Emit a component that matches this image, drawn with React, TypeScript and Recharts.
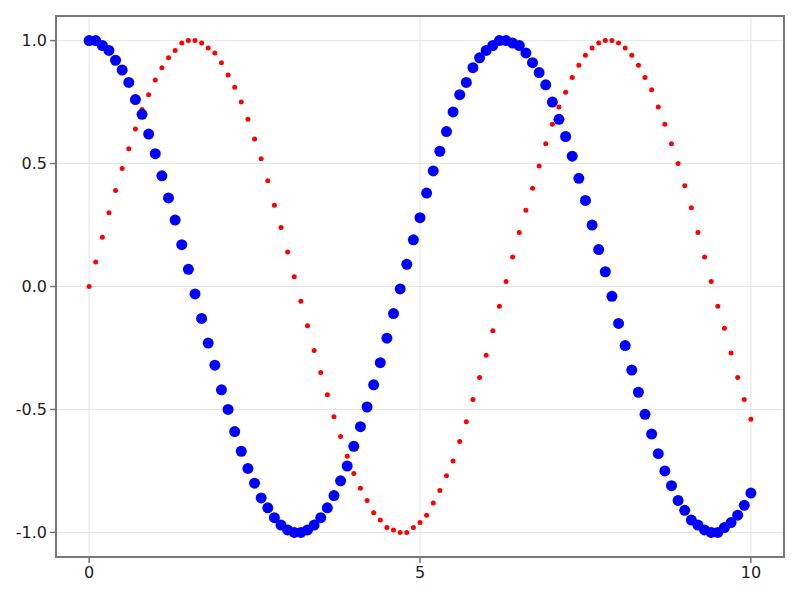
import { ScatterChart, Scatter, XAxis, YAxis, CartesianGrid, ReferenceArea } from "recharts";

const xs = [
  0, 0.1, 0.2, 0.3, 0.4, 0.5, 0.6, 0.7, 0.8, 0.9,
  1, 1.1, 1.2, 1.3, 1.4, 1.5, 1.6, 1.7, 1.8, 1.9,
  2, 2.1, 2.2, 2.3, 2.4, 2.5, 2.6, 2.7, 2.8, 2.9,
  3, 3.1, 3.2, 3.3, 3.4, 3.5, 3.6, 3.7, 3.8, 3.9,
  4, 4.1, 4.2, 4.3, 4.4, 4.5, 4.6, 4.7, 4.8, 4.9,
  5, 5.1, 5.2, 5.3, 5.4, 5.5, 5.6, 5.7, 5.8, 5.9,
  6, 6.1, 6.2, 6.3, 6.4, 6.5, 6.6, 6.7, 6.8, 6.9,
  7, 7.1, 7.2, 7.3, 7.4, 7.5, 7.6, 7.7, 7.8, 7.9,
  8, 8.1, 8.2, 8.3, 8.4, 8.5, 8.6, 8.7, 8.8, 8.9,
  9, 9.1, 9.2, 9.3, 9.4, 9.5, 9.6, 9.7, 9.8, 9.9,
  10,
];

// blue, large dots
const cosValues = [
  1.0, 1.0, 0.98, 0.96, 0.92, 0.88, 0.83, 0.76, 0.7, 0.62,
  0.54, 0.45, 0.36, 0.27, 0.17, 0.07, -0.03, -0.13, -0.23, -0.32,
  -0.42, -0.5, -0.59, -0.67, -0.74, -0.8, -0.86, -0.9, -0.94, -0.97,
  -0.99, -1.0, -1.0, -0.99, -0.97, -0.94, -0.9, -0.85, -0.79, -0.73,
  -0.65, -0.57, -0.49, -0.4, -0.31, -0.21, -0.11, -0.01, 0.09, 0.19,
  0.28, 0.38, 0.47, 0.55, 0.63, 0.71, 0.78, 0.83, 0.89, 0.93,
  0.96, 0.98, 1.0, 1.0, 0.99, 0.98, 0.95, 0.91, 0.87, 0.82,
  0.75, 0.68, 0.61, 0.53, 0.44, 0.35, 0.25, 0.15, 0.06, -0.04,
  -0.15, -0.24, -0.34, -0.43, -0.52, -0.6, -0.68, -0.75, -0.81, -0.87,
  -0.91, -0.95, -0.97, -0.99, -1.0, -1.0, -0.98, -0.96, -0.93, -0.89,
  -0.84,
];

// red, small dots
const sinValues = [
  0.0, 0.1, 0.2, 0.3, 0.39, 0.48, 0.56, 0.64, 0.72, 0.78,
  0.84, 0.89, 0.93, 0.96, 0.99, 1.0, 1.0, 0.99, 0.97, 0.95,
  0.91, 0.86, 0.81, 0.75, 0.68, 0.6, 0.52, 0.43, 0.33, 0.24,
  0.14, 0.04, -0.06, -0.16, -0.26, -0.35, -0.44, -0.53, -0.61, -0.69,
  -0.76, -0.82, -0.87, -0.92, -0.95, -0.98, -0.99, -1.0, -1.0, -0.98,
  -0.96, -0.93, -0.88, -0.83, -0.77, -0.71, -0.63, -0.55, -0.46, -0.37,
  -0.28, -0.18, -0.08, 0.02, 0.12, 0.22, 0.31, 0.4, 0.49, 0.58,
  0.66, 0.73, 0.79, 0.85, 0.9, 0.94, 0.97, 0.99, 1.0, 1.0,
  0.99, 0.97, 0.94, 0.9, 0.85, 0.8, 0.73, 0.66, 0.58, 0.5,
  0.41, 0.32, 0.22, 0.12, 0.02, -0.08, -0.17, -0.27, -0.37, -0.46,
  -0.54,
];

const xTicks = [0, 5, 10];
const yTicks = [-1, -0.5, 0, 0.5, 1];

const cosData = xs.map((x, i) => ({ x, y: cosValues[i] }));
const sinData = xs.map((x, i) => ({ x, y: sinValues[i] }));

const tickStyle = { fontFamily: "DejaVu Sans", fontSize: 16, fill: "#222" };

const dot = (r: number, color: string) => (props: any) =>
  <circle cx={props.cx} cy={props.cy} r={r} fill={color} />;

export default function App() {
  return (
    <div style={{ position: "absolute", left: 0, top: 0, background: "#fff" }}>
      <ScatterChart width={800} height={600} margin={{ top: 16, right: 16, bottom: 0, left: 0 }}>
        <CartesianGrid stroke="#e5e5e5" strokeWidth={1} />
        <XAxis
          type="number"
          dataKey="x"
          domain={[-0.5, 10.5]}
          ticks={xTicks}
          height={43}
          axisLine={false}
          tickLine={{ stroke: "#777", strokeWidth: 1.5 }}
          tickSize={6}
          tick={tickStyle}
          tickMargin={4}
        />
        <YAxis
          type="number"
          dataKey="y"
          domain={[-1.1, 1.1]}
          ticks={yTicks}
          width={56}
          axisLine={false}
          tickLine={{ stroke: "#777", strokeWidth: 1.5 }}
          tickSize={6}
          tick={tickStyle}
          tickMargin={3}
          tickFormatter={(v: number) => v.toFixed(1)}
        />
        <ReferenceArea x1={-0.5} x2={10.5} y1={-1.1} y2={1.1} fill="none" stroke="#777" strokeWidth={2} />
        <Scatter data={sinData} fill="#ff0000" shape={dot(2.5, "#ff0000")} isAnimationActive={false} />
        <Scatter data={cosData} fill="#0000ff" shape={dot(5.5, "#0000ff")} isAnimationActive={false} />
      </ScatterChart>
    </div>
  );
}
